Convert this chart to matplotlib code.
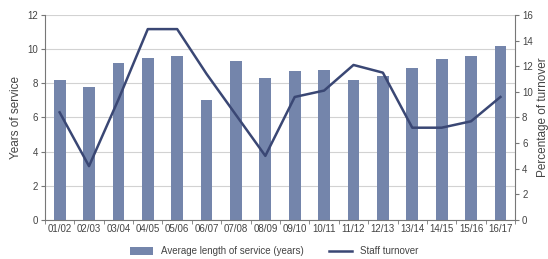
import matplotlib
matplotlib.use("Agg")
import matplotlib.pyplot as plt
import numpy as np

years = ["01/02", "02/03", "03/04", "04/05", "05/06", "06/07", "07/08", "08/09",
         "09/10", "10/11", "11/12", "12/13", "13/14", "14/15", "15/16", "16/17"]
service = [8.2, 7.8, 9.2, 9.5, 9.6, 7.0, 9.3, 8.3, 8.7, 8.8, 8.2, 8.4, 8.9, 9.4, 9.6, 10.2]
turnover = [8.4, 4.2, 9.4, 14.9, 14.9, 11.4, 8.2, 5.0, 9.6, 10.1, 12.1, 11.5, 7.2, 7.2, 7.7, 9.6]
left_ticks = [0, 2, 4, 6, 8, 10, 12]
right_ticks = [0, 2, 4, 6, 8, 10, 12, 14, 16]

plt.rcParams['font.family'] = ['Liberation Sans', 'DejaVu Sans']
txt = '#444444'
bar_c = '#7485ab'
line_c = '#3a4774'

fig = plt.figure(figsize=(5.48, 2.59), dpi=100)
ax = fig.add_axes([0.082, 0.151, 0.858, 0.791])
x = np.arange(len(years))
bars = ax.bar(x, service, width=0.4, color=bar_c, zorder=2, label='Average length of service (years)')
ax.set_xlim(-0.5, len(years) - 0.5)
ax.set_ylim(0, 12)
ax.set_yticks(left_ticks)
ax.grid(axis='y', color='#d2d2d2', linewidth=0.8, zorder=0)
ax.set_axisbelow(True)
ax.set_ylabel('Years of service', fontsize=8.5, color=txt, labelpad=4)
ax.spines['top'].set_visible(False)
ax.spines['right'].set_visible(False)
for s in ['left', 'bottom']:
    ax.spines[s].set_color('#777777')
    ax.spines[s].set_linewidth(0.8)
ax.set_xticks(x)
ax.set_xticklabels(years)
ax.set_xticks(np.arange(-0.5, len(years) + 0.5, 1), minor=True)
ax.tick_params(axis='x', which='major', length=0, labelsize=7, colors=txt, pad=3)
ax.tick_params(axis='x', which='minor', length=3, color='#777777', direction='out')
ax.tick_params(axis='y', labelsize=7, colors=txt, length=3, color='#777777', pad=2)

ax2 = ax.twinx()
ln, = ax2.plot(x, turnover, color=line_c, linewidth=1.8, zorder=3, label='Staff turnover')
ax2.set_ylim(0, 16)
ax2.set_yticks(right_ticks)
ax2.set_ylabel('Percentage of turnover', fontsize=8.5, color=txt, labelpad=3)
for s in ['top', 'left', 'bottom']:
    ax2.spines[s].set_visible(False)
ax2.spines['right'].set_color('#777777')
ax2.spines['right'].set_linewidth(0.8)
ax2.tick_params(axis='y', labelsize=7, colors=txt, length=3, color='#777777', pad=2)

fig.legend([bars, ln], ['Average length of service (years)', 'Staff turnover'],
           loc='center', bbox_to_anchor=(0.5, 0.03), ncol=2, frameon=False,
           fontsize=7, handlelength=2.4, handleheight=0.8, columnspacing=2.6,
           labelcolor=txt)

fig.savefig('out.png', dpi=100)
